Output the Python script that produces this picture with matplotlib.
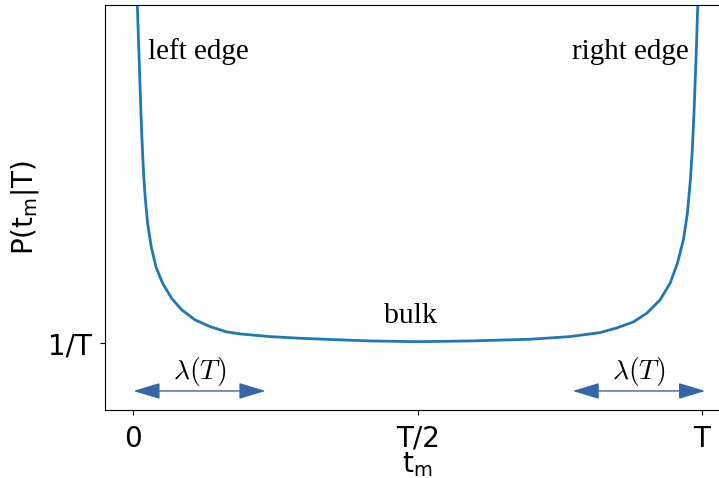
import matplotlib
matplotlib.use("Agg")
import matplotlib.pyplot as plt
import numpy as np

# curve (t in units of T, P in units of 1/T)
t_vals = [0.0058, 0.0070, 0.0088, 0.0106, 0.0125, 0.0146, 0.0167, 0.0186, 0.0211,
          0.0250, 0.0315, 0.0399, 0.0514, 0.0676, 0.0852, 0.1085, 0.1349, 0.1643,
          0.1877, 0.2405, 0.2933, 0.346, 0.4164, 0.5, 0.5924, 0.698, 0.7683,
          0.8211, 0.8505, 0.8797, 0.9032, 0.9266, 0.9442, 0.9571, 0.9676, 0.9747,
          0.9799, 0.9833, 0.9865, 0.9882, 0.9907, 0.9928, 0.9937]
p_vals = [6.30, 6.05, 5.59, 5.14, 4.65, 4.15, 3.75, 3.45, 3.15,
          2.80, 2.44, 2.14, 1.90, 1.67, 1.50, 1.35, 1.25, 1.17,
          1.14, 1.10, 1.075, 1.057, 1.035, 1.024, 1.035, 1.06, 1.10,
          1.16, 1.23, 1.32, 1.45, 1.65, 1.90, 2.20, 2.55, 2.95,
          3.45, 3.90, 4.50, 4.90, 5.47, 6.05, 6.30]

xtick_pos = [0, 0.5, 1]
xtick_labels = ["0", "T/2", "T"]
ytick_pos = [1]
ytick_labels = ["1/T"]

lam_left = (0.0, 0.2325)
lam_right = (0.7727, 1.006)

fig = plt.figure(figsize=(7.19, 4.78), dpi=100)
ax = fig.add_axes([0.146, 0.1423, 0.8696, 0.8472])

ax.plot(t_vals, p_vals, color="#1f77b4", lw=2)

ax.set_xlim(-0.05, 1.05)
ax.set_ylim(0, 6.07)
ax.set_xticks(xtick_pos)
ax.set_xticklabels(xtick_labels, fontsize=20)
ax.set_yticks(ytick_pos)
ax.set_yticklabels(ytick_labels, fontsize=20)
ax.tick_params(axis="x", pad=7)
ax.tick_params(axis="y", pad=6)
ax.set_xlabel(r"t$_{\rm m}$", fontsize=20, labelpad=-2)
ax.set_ylabel(r"P(t$_{\rm m}$|T)", fontsize=20, labelpad=5)

serif = ["Liberation Serif", "DejaVu Serif"]
ax.text(0.0259, 5.26, "left edge", family=serif, fontsize=21, ha="left", va="baseline")
ax.text(0.9777, 5.26, "right edge", family=serif, fontsize=21, ha="right", va="baseline")
ax.text(0.4875, 1.30, "bulk", family=serif, fontsize=21.5, ha="center", va="baseline")

arrow_kw = dict(arrowstyle="<|-|>,head_length=1.66,head_width=0.5", color="#3466a8",
                lw=1, shrinkA=0, shrinkB=0, mutation_scale=10)
y_arr = 0.285
for a, b in [lam_left, lam_right]:
    ax.annotate("", xy=(a, y_arr), xytext=(b, y_arr), arrowprops=arrow_kw)
    ax.text((a + b) / 2, 0.57, r"$\lambda(T)$", math_fontfamily="cm", fontsize=20,
            ha="center", va="center")

fig.savefig("out.png", dpi=100)
